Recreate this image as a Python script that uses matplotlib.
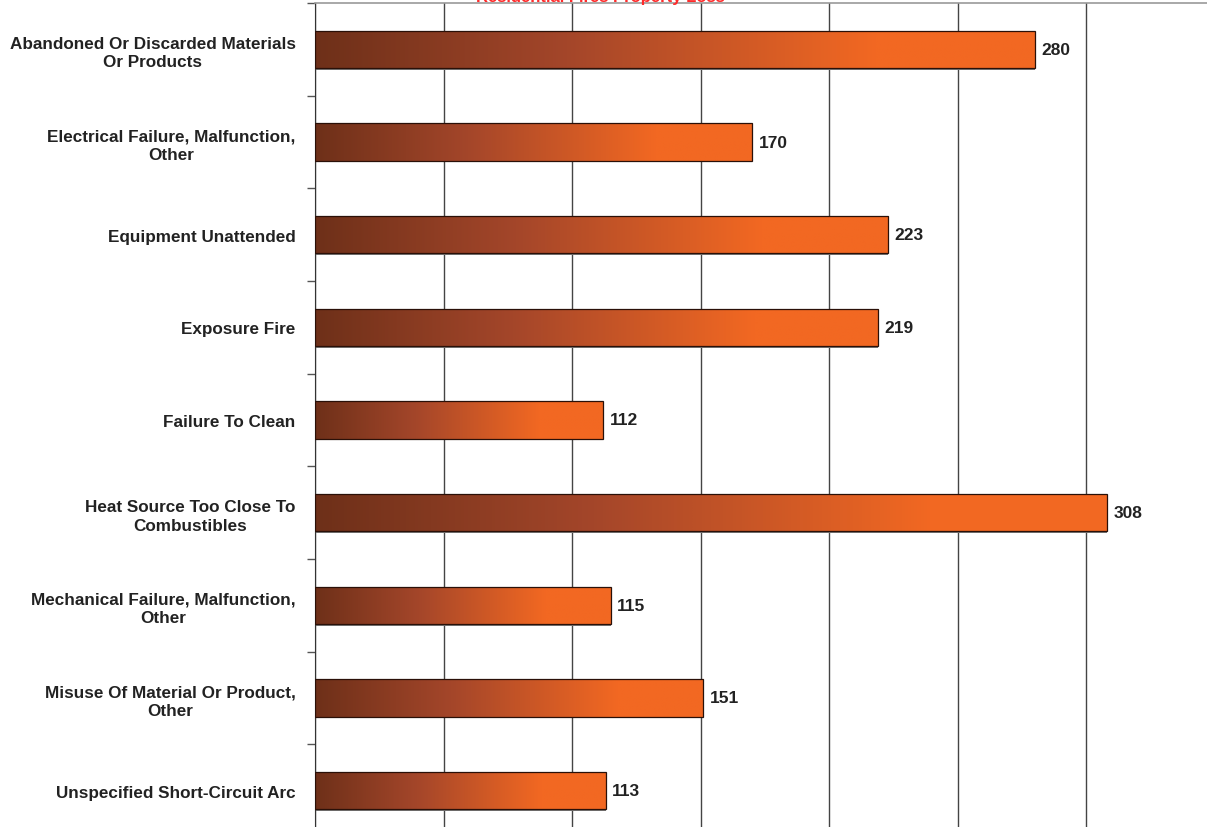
import matplotlib
matplotlib.use("Agg")
import matplotlib.pyplot as plt
import numpy as np
from matplotlib.colors import LinearSegmentedColormap
from matplotlib.patches import Rectangle

plt.rcParams['font.family'] = ['Liberation Sans', 'DejaVu Sans']

causes = [
    "Abandoned Or Discarded Materials\nOr Products",
    "Electrical Failure, Malfunction,\nOther",
    "Equipment Unattended",
    "Exposure Fire",
    "Failure To Clean",
    "Heat Source Too Close To\nCombustibles",
    "Mechanical Failure, Malfunction,\nOther",
    "Misuse Of Material Or Product,\nOther",
    "Unspecified Short-Circuit Arc",
]
counts = [280, 170, 223, 219, 112, 308, 115, 151, 113]

W, H = 1207, 828
fig = plt.figure(figsize=(W / 100, H / 100), dpi=100)
# plot area runs past the right and bottom edges of the picture (cropped chart)
left, right, top, bottom = 315, 1215, 4, 838
ax = fig.add_axes([left / W, 1 - bottom / H, (right - left) / W, (bottom - top) / H])

ax.set_xlim(0, 350)
ax.set_ylim(len(causes) - 0.5, -0.5)

cmap = LinearSegmentedColormap.from_list(
    "fire", [(0, "#6e3019"), (0.35, "#a4462a"), (0.78, "#f26822"), (1, "#f26822")])
grad = np.linspace(0, 1, 256).reshape(1, -1)

bh = 0.4
for i, v in enumerate(counts):
    y0 = i - bh / 2
    shadow = Rectangle((0, y0 + 0.02), v, bh, facecolor="#777777", edgecolor="none", zorder=2)
    ax.add_patch(shadow)
    im = ax.imshow(grad, cmap=cmap, aspect="auto", extent=(0, v, i + bh / 2, y0),
                   zorder=3, interpolation="bilinear")
    rect = Rectangle((0, y0), v, bh, facecolor="none", edgecolor="#2a1008", linewidth=0.9, zorder=4)
    ax.add_patch(rect)
    im.set_clip_path(rect)
    ax.text(v + 2.5, i, str(v), va="center", ha="left", fontsize=12.5, fontweight="bold",
            color="#222222", zorder=5)

ax.set_xticks(np.arange(0, 351, 50))
ax.tick_params(axis="x", length=0, labelbottom=False)
ax.grid(axis="x", color="#444444", linewidth=1.0, zorder=1)
ax.set_axisbelow(True)

ax.set_yticks(np.arange(-0.5, len(causes) + 0.5, 1))
ax.set_yticklabels([])
ax.tick_params(axis="y", which="major", length=6, width=1, color="#555555", direction="out")
ax.set_yticks(np.arange(len(causes)), minor=True)
ax.set_yticklabels(causes, minor=True, fontsize=12.3, fontweight="bold", color="#222222",
                   multialignment="center", linespacing=1.3)
ax.tick_params(axis="y", which="minor", length=0, pad=14)

for s in ["right", "bottom"]:
    ax.spines[s].set_visible(False)
ax.spines["left"].set_color("#333333")
ax.spines["top"].set_color("#999999")
ax.spines["top"].set_linewidth(1.2)

# title sits mostly above the cropped picture; only its lower edge shows
fig.text(725 / W, 1 - 2 / H, "Residential Fires Property Loss", color="#ff2a2a", fontsize=12,
         fontweight="bold", ha="right", va="baseline")

fig.savefig("out.png", dpi=100)
